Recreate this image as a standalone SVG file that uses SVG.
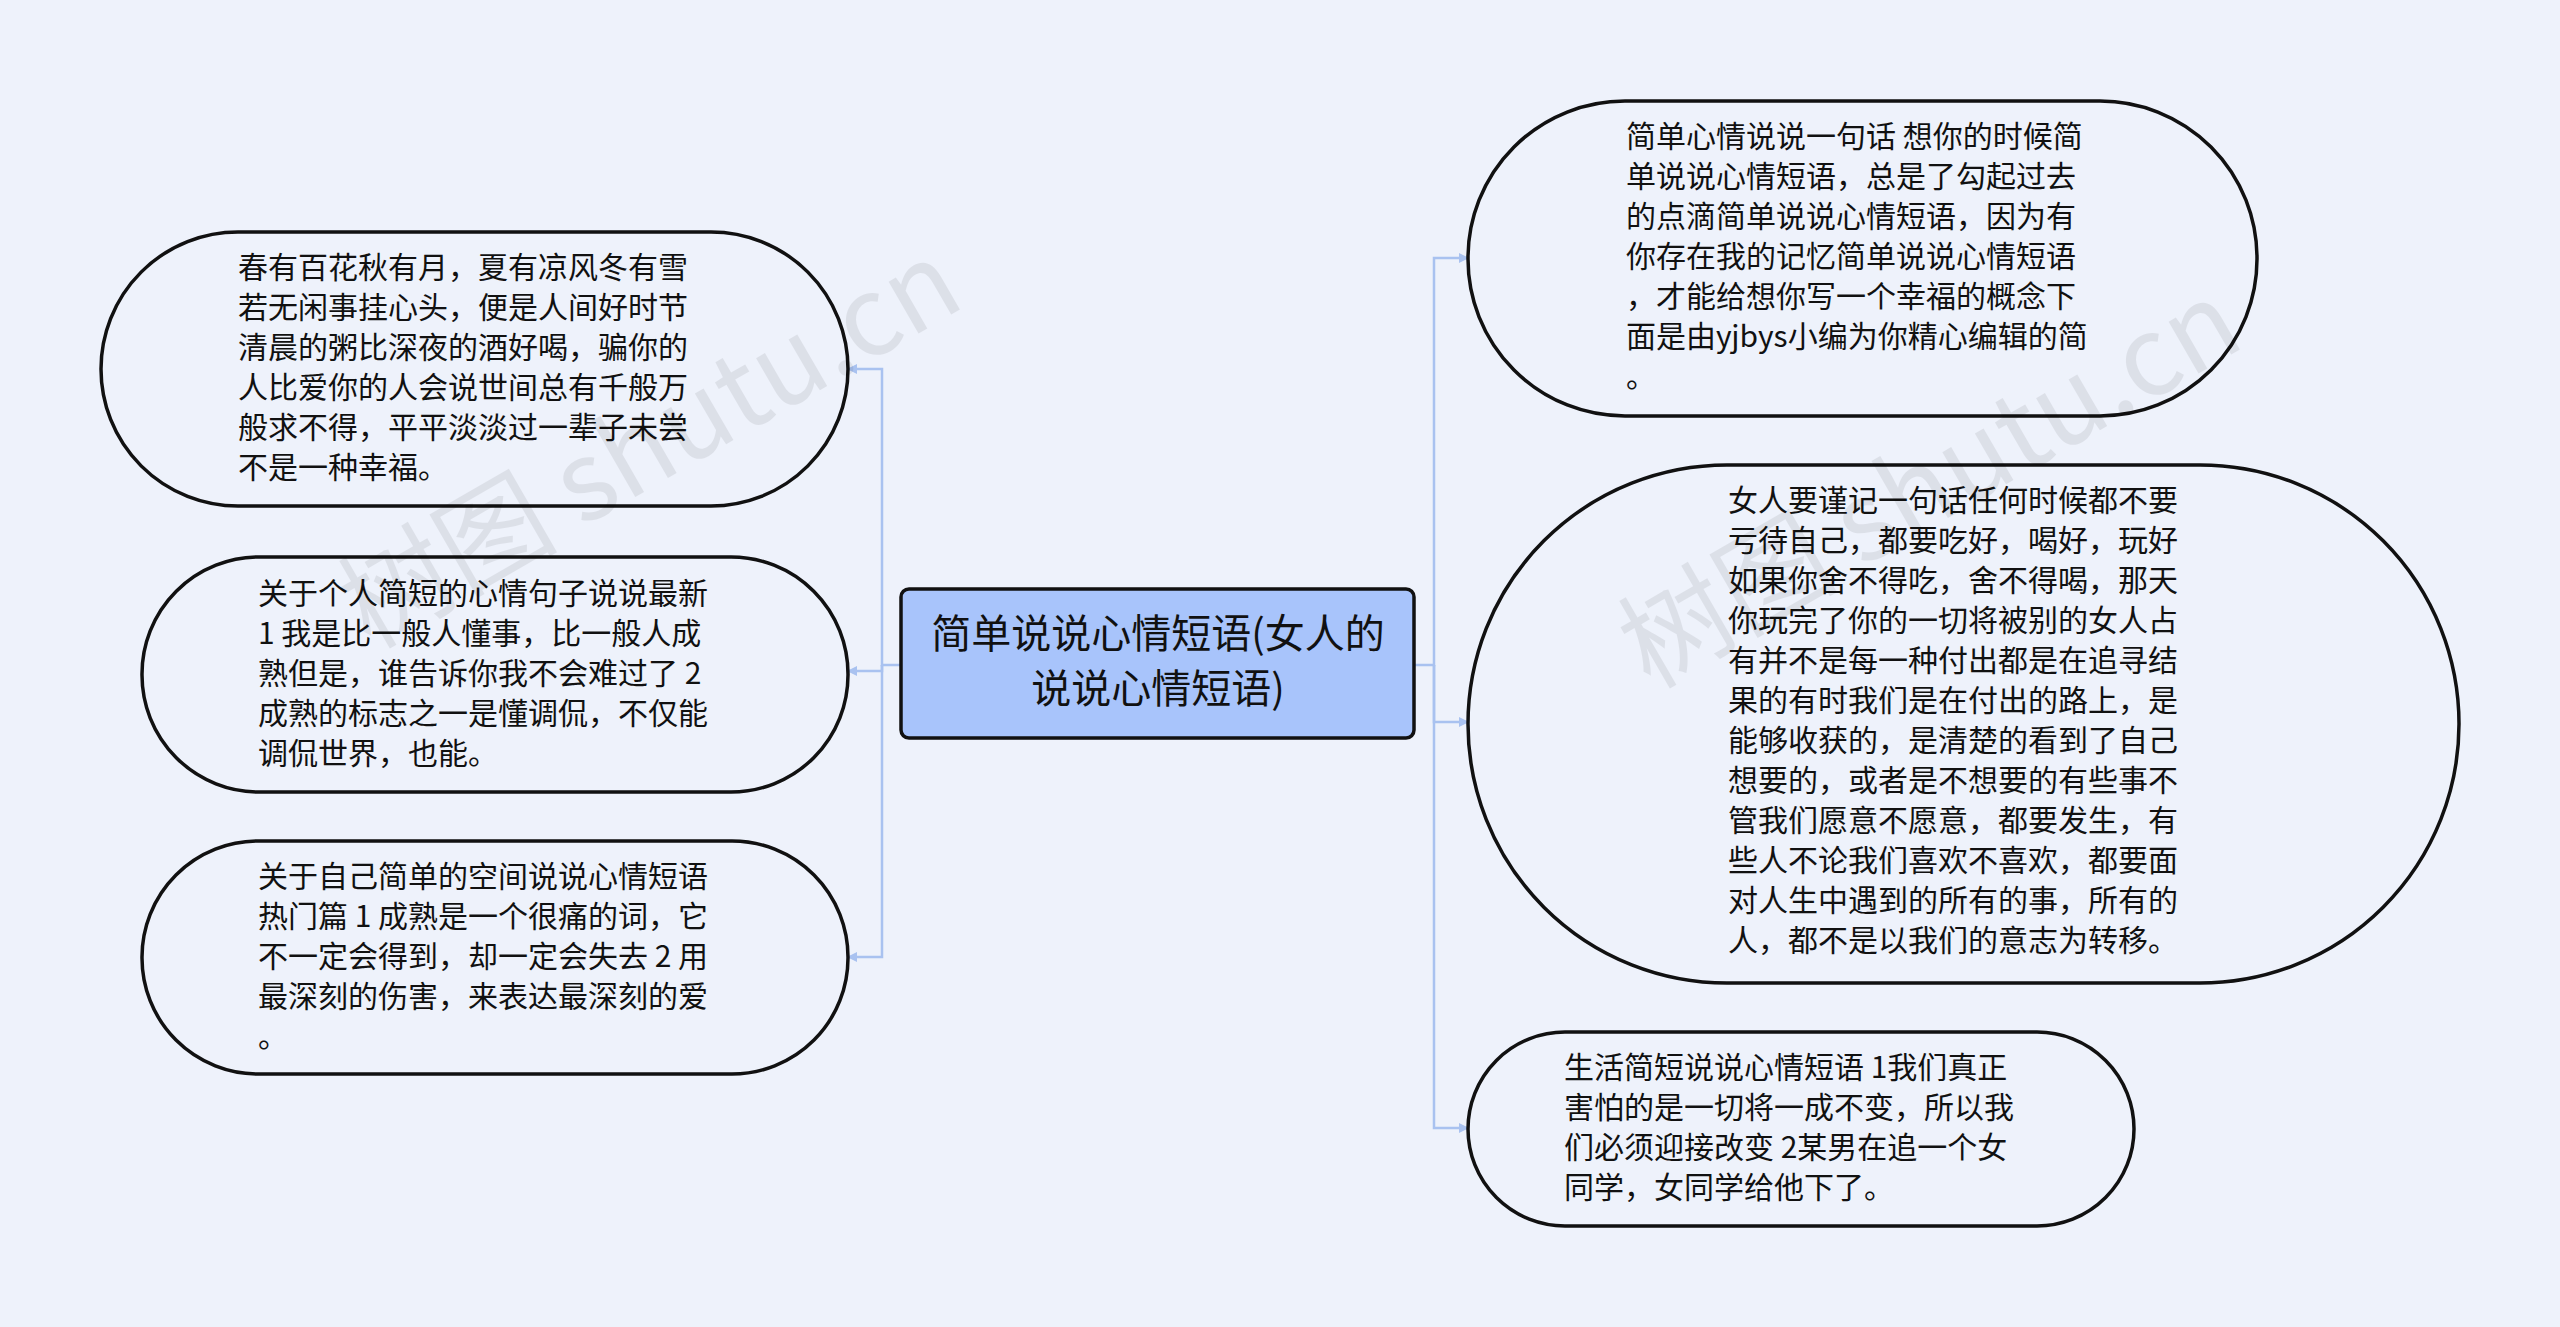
<svg xmlns="http://www.w3.org/2000/svg" width="2560" height="1327" viewBox="0 0 2560 1327">
<style>
.n{fill:#eef2fb;stroke:#111;stroke-width:3.5}
.t{font-family:"Noto Sans CJK SC","Noto Sans",sans-serif;font-size:30px;fill:#111}
.c{stroke:#a9c2f0;stroke-width:2.5;fill:none}
.w{font-family:"Noto Sans CJK SC","Liberation Sans",sans-serif;font-size:110px;fill:#000;opacity:0.07}
</style>
<defs><marker id="a" markerWidth="10" markerHeight="10" refX="9" refY="5" orient="auto" markerUnits="userSpaceOnUse"><path d="M0,0 L10,5 L0,10 z" fill="#a9c2f0"/></marker></defs>
<rect width="2560" height="1327" fill="#eef2fb"/>
<g id="connectors">
<path class="c" d="M901,665 H882 V369 H848" marker-end="url(#a)"/>
<path class="c" d="M882,665 V671 H848" marker-end="url(#a)"/>
<path class="c" d="M882,665 V957 H848" marker-end="url(#a)"/>
<path class="c" d="M1414,665 H1434 V258 H1468" marker-end="url(#a)"/>
<path class="c" d="M1434,665 V722 H1468" marker-end="url(#a)"/>
<path class="c" d="M1434,665 V1128 H1468" marker-end="url(#a)"/>
</g>
<g id="center"><rect x="901" y="589" width="513" height="149" rx="8" fill="#a8c4fb" stroke="#111" stroke-width="3.5"/>
<text class="t" style="font-size:40px" text-anchor="middle"><tspan x="1158" y="648">简单说说心情短语(女人的</tspan><tspan x="1158" y="703">说说心情短语)</tspan></text></g>
<g id="L1"><rect class="n" x="101" y="232" width="747" height="274" rx="137"/>
<text class="t"><tspan x="238" y="278">春有百花秋有月，夏有凉风冬有雪</tspan><tspan x="238" y="318">若无闲事挂心头，便是人间好时节</tspan><tspan x="238" y="358">清晨的粥比深夜的酒好喝，骗你的</tspan><tspan x="238" y="398">人比爱你的人会说世间总有千般万</tspan><tspan x="238" y="438">般求不得，平平淡淡过一辈子未尝</tspan><tspan x="238" y="478">不是一种幸福。</tspan></text></g>
<g id="L2"><rect class="n" x="142" y="557" width="706" height="235" rx="117"/>
<text class="t"><tspan x="258" y="604">关于个人简短的心情句子说说最新</tspan><tspan x="258" y="644">1 我是比一般人懂事，比一般人成</tspan><tspan x="258" y="684">熟但是，谁告诉你我不会难过了 2</tspan><tspan x="258" y="724">成熟的标志之一是懂调侃，不仅能</tspan><tspan x="258" y="764">调侃世界，也能。</tspan></text></g>
<g id="L3"><rect class="n" x="142" y="841" width="706" height="233" rx="116"/>
<text class="t"><tspan x="258" y="887">关于自己简单的空间说说心情短语</tspan><tspan x="258" y="927">热门篇 1 成熟是一个很痛的词，它</tspan><tspan x="258" y="967">不一定会得到，却一定会失去 2 用</tspan><tspan x="258" y="1007">最深刻的伤害，来表达最深刻的爱</tspan><tspan x="258" y="1047">。</tspan></text></g>
<g id="R1"><rect class="n" x="1468" y="101" width="789" height="315" rx="157"/>
<text class="t"><tspan x="1626" y="147">简单心情说说一句话 想你的时候简</tspan><tspan x="1626" y="187">单说说心情短语，总是了勾起过去</tspan><tspan x="1626" y="227">的点滴简单说说心情短语，因为有</tspan><tspan x="1626" y="267">你存在我的记忆简单说说心情短语</tspan><tspan x="1626" y="307">，才能给想你写一个幸福的概念下</tspan><tspan x="1626" y="347">面是由yjbys小编为你精心编辑的简</tspan><tspan x="1626" y="387">。</tspan></text></g>
<g id="R2"><rect class="n" x="1468" y="465" width="991" height="518" rx="259"/>
<text class="t"><tspan x="1728" y="511">女人要谨记一句话任何时候都不要</tspan><tspan x="1728" y="551">亏待自己，都要吃好，喝好，玩好</tspan><tspan x="1728" y="591">如果你舍不得吃，舍不得喝，那天</tspan><tspan x="1728" y="631">你玩完了你的一切将被别的女人占</tspan><tspan x="1728" y="671">有并不是每一种付出都是在追寻结</tspan><tspan x="1728" y="711">果的有时我们是在付出的路上，是</tspan><tspan x="1728" y="751">能够收获的，是清楚的看到了自己</tspan><tspan x="1728" y="791">想要的，或者是不想要的有些事不</tspan><tspan x="1728" y="831">管我们愿意不愿意，都要发生，有</tspan><tspan x="1728" y="871">些人不论我们喜欢不喜欢，都要面</tspan><tspan x="1728" y="911">对人生中遇到的所有的事，所有的</tspan><tspan x="1728" y="951">人，都不是以我们的意志为转移。</tspan></text></g>
<g id="R3"><rect class="n" x="1468" y="1032" width="666" height="194" rx="97"/>
<text class="t"><tspan x="1564" y="1078">生活简短说说心情短语 1我们真正</tspan><tspan x="1564" y="1118">害怕的是一切将一成不变，所以我</tspan><tspan x="1564" y="1158">们必须迎接改变 2某男在追一个女</tspan><tspan x="1564" y="1198">同学，女同学给他下了。</tspan></text></g>
<text class="w" transform="translate(370,650) rotate(-30)">树图 shutu.cn</text>
<text class="w" transform="translate(1650,690) rotate(-30)">树图 shutu.cn</text>
</svg>
